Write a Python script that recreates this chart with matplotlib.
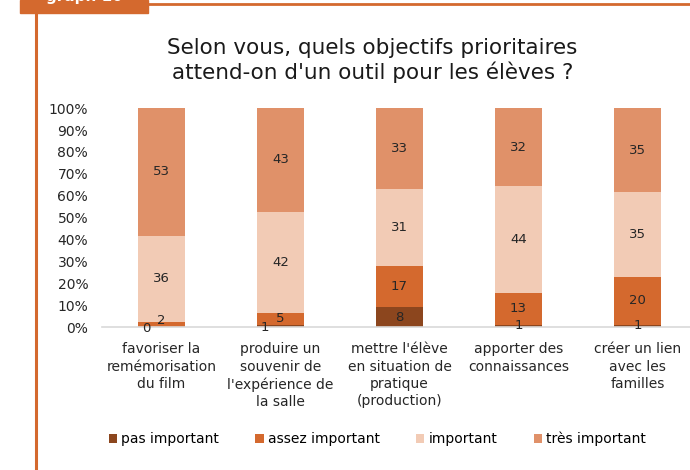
import matplotlib
matplotlib.use('Agg')
import matplotlib.pyplot as plt
from matplotlib.patches import Rectangle
import numpy as np

plt.rcParams['font.family'] = ['DejaVu Sans']

categories = ["favoriser la\nremémorisation\ndu film",
              "produire un\nsouvenir de\nl'expérience de\nla salle",
              "mettre l'élève\nen situation de\npratique\n(production)",
              "apporter des\nconnaissances",
              "créer un lien\navec les\nfamilles"]
series = ["pas important", "assez important", "important", "très important"]
pas_important = [0, 1, 8, 1, 1]
assez_important = [2, 5, 17, 13, 20]
important = [36, 42, 31, 44, 35]
tres_important = [53, 43, 33, 32, 35]
colors = ['#8C461E', '#D4692E', '#F2CBB5', '#E09169']
orange = '#D4692E'

values = np.array([pas_important, assez_important, important, tres_important], dtype=float)
totals = values.sum(axis=0)
pct = values / totals * 100

fig = plt.figure(figsize=(6.9, 4.7), dpi=100)
ax = fig.add_axes([0.148, 0.304, 0.862, 0.466])

x = np.arange(len(categories))
bottom = np.zeros(len(categories))
for i, name in enumerate(series):
    ax.bar(x, pct[i], 0.4, bottom=bottom, color=colors[i], label=name, zorder=2)
    for j in range(len(categories)):
        v = int(values[i, j])
        yc = bottom[j] + pct[i, j] / 2
        xc = x[j]
        # small labels get nudged like in the original
        if pct[i, j] < 3 and i + 1 < len(series) and values[i + 1, j] < 7:
            xc -= 0.13
            yc -= 0.5
        elif pct[i, j] < 3 and i > 0 and values[i - 1, j] < 3:
            yc += 2
        ax.text(xc, yc, str(v), ha='center', va='center', fontsize=9.5, color='#262626', zorder=3)
    bottom += pct[i]

ax.set_xlim(-0.5, 4.5)
ax.set_ylim(0, 100)
ax.set_yticks(np.arange(0, 101, 10))
ax.set_yticklabels([f"{t}%" for t in range(0, 101, 10)], fontsize=10, color='#262626')
ax.set_xticks(x)
ax.set_xticklabels(categories, fontsize=10, color='#262626', linespacing=1.3, va='top')
ax.tick_params(axis='y', length=0, pad=10)
ax.tick_params(axis='x', length=0, pad=11)
for s in ['top', 'right', 'left']:
    ax.spines[s].set_visible(False)
ax.spines['bottom'].set_color('#D9D9D9')
ax.spines['bottom'].set_linewidth(1.2)

fig.text(0.54, 0.872, "Selon vous, quels objectifs prioritaires\nattend-on d'un outil pour les élèves ?",
         ha='center', va='center', fontsize=15.5, color='#1a1a1a', linespacing=1.2)

fig.legend(loc='center', bbox_to_anchor=(0.547, 0.066), ncol=4, frameon=False, fontsize=10,
           handlelength=0.6, handleheight=0.6, handletextpad=0.3, columnspacing=2.6)

# orange frame and tab
fig.add_artist(plt.Line2D([36 / 690, 36 / 690], [0, 1 - 12 / 470], transform=fig.transFigure, color=orange, lw=2.2))
fig.add_artist(plt.Line2D([148 / 690, 1], [1 - 4 / 470, 1 - 4 / 470], transform=fig.transFigure, color=orange, lw=2))
fig.add_artist(Rectangle((20 / 690, 1 - 13 / 470), 128 / 690, 13 / 470, transform=fig.transFigure,
                         color=orange, zorder=5))
fig.text(84 / 690, 1 + 3 / 470, "graph 10", ha='center', va='center', color='white', fontsize=11,
         fontweight='bold', zorder=6)

fig.savefig('out.png', dpi=100)
